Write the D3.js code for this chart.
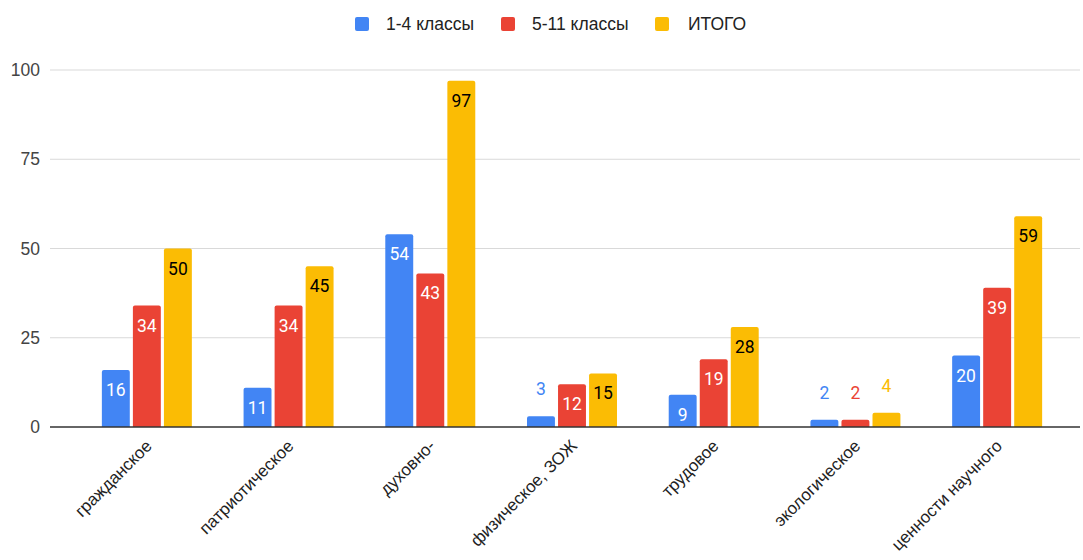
<!DOCTYPE html>
<html><head><meta charset="utf-8">
<script src="https://cdn.jsdelivr.net/npm/d3@7"></script>
<style>body{margin:0;background:#fff;}svg{display:block;font-family:Arial,"Liberation Sans",sans-serif;}</style>
</head><body><svg id="c" width="1083" height="560"></svg>
<script>
const categories = ["гражданское","патриотическое","духовно-","физическое, ЗОЖ","трудовое","экологическое","ценности научного"];
const seriesNames = ["1-4 классы","5-11 классы","ИТОГО"];
const grades1to4 = [16,11,54,3,9,2,20];
const grades5to11 = [34,34,43,12,19,2,39];
const totals = [50,45,97,15,28,4,59];
const yTicks = [0,25,50,75,100];
const colors = ["#4285F4","#EA4335","#FBBC04"];
const labelIn = ["#ffffff","#ffffff","#000000"];

const seriesValues = [grades1to4, grades5to11, totals];
const svg = d3.select("#c");
const plotLeft = 50, plotRight = 1080, plotTop = 70, plotBottom = 427;

const y = d3.scaleLinear().domain([0,100]).range([plotBottom, plotTop]);
const x0 = d3.scaleBand().domain(categories).range([76, 1068]).paddingInner(0.365).paddingOuter(0.1825);
const x1 = d3.scaleBand().domain(seriesNames).range([0, x0.bandwidth()]).paddingInner(0.1);

// gridlines
svg.append("g").selectAll("line").data(yTicks.filter(d=>d>0)).join("line")
  .attr("x1",plotLeft).attr("x2",plotRight).attr("y1",d=>y(d)).attr("y2",d=>y(d))
  .attr("stroke","#d9d9d9").attr("stroke-width",1);

// y labels
svg.append("g").selectAll("text").data(yTicks).join("text")
  .attr("x",40).attr("y",d=>y(d)+6).attr("text-anchor","end")
  .attr("font-size",17.5).attr("fill","#444").text(d=>d);

// bars
const data = [];
categories.forEach((c,i)=>seriesNames.forEach((s,j)=>data.push({c,s,j,v:seriesValues[j][i]})));
const g = svg.append("g");
g.selectAll("path").data(data).join("path")
  .attr("d", d=>{
    const x = x0(d.c)+x1(d.s), w = x1.bandwidth(), yt = y(d.v), h = plotBottom-yt, r = Math.min(2, h/2);
    return `M${x},${plotBottom}V${yt+r}Q${x},${yt} ${x+r},${yt}H${x+w-r}Q${x+w},${yt} ${x+w},${yt+r}V${plotBottom}Z`;
  })
  .attr("fill", d=>colors[d.j]);

// value labels
g.selectAll("text").data(data).join("text")
  .attr("x", d=>x0(d.c)+x1(d.s)+x1.bandwidth()/2)
  .attr("y", d=> (plotBottom-y(d.v) > 30) ? y(d.v)+26 : y(d.v)-21)
  .attr("text-anchor","middle").attr("font-size",17.5).attr("font-family","Roboto,sans-serif")
  .attr("fill", d=> (plotBottom-y(d.v) > 30) ? labelIn[d.j] : colors[d.j])
  .text(d=>d.v);

// baseline
svg.append("line").attr("x1",plotLeft).attr("x2",plotRight).attr("y1",plotBottom).attr("y2",plotBottom)
  .attr("stroke","#333").attr("stroke-width",1.5);

// x labels
svg.append("g").selectAll("text").data(categories).join("text")
  .attr("transform", d=>`translate(${x0(d)+x0.bandwidth()/2+6},${plotBottom+20}) rotate(-45)`)
  .attr("text-anchor","end").attr("font-size",17).attr("fill","#222").text(d=>d);

// legend
const legX = [355, 501, 655];
const leg = svg.append("g").selectAll("g").data(seriesNames).join("g")
  .attr("transform",(d,i)=>`translate(${legX[i]},17)`);
leg.append("rect").attr("width",14).attr("height",14).attr("rx",2).attr("fill",(d,i)=>colors[i]);
leg.append("text").attr("x",(d,i)=>i===2?33:31).attr("y",13).attr("font-size",17.5).attr("fill","#222").text(d=>d);
</script></body></html>
